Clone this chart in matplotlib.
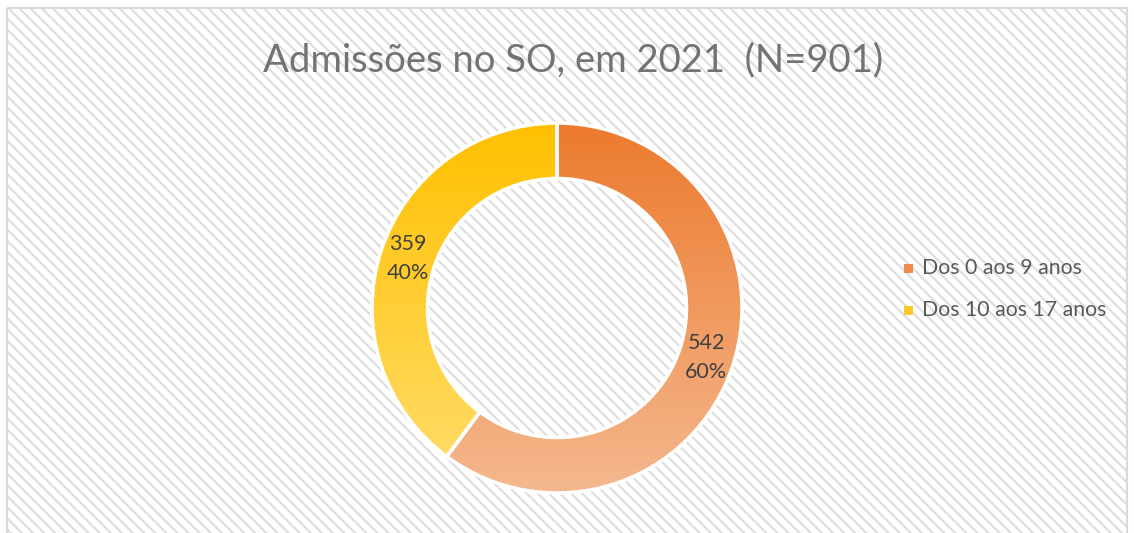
import numpy as np
import matplotlib
matplotlib.use("Agg")
import matplotlib.pyplot as plt
from matplotlib.colors import LinearSegmentedColormap
from matplotlib.patches import Rectangle

plt.rcParams["font.family"] = ["Lato", "DejaVu Sans"]
plt.rcParams["hatch.linewidth"] = 1.5

# dados
categorias = ["Dos 0 aos 9 anos", "Dos 10 aos 17 anos"]
valores = [542, 359]
titulo = "Admissões no SO, em 2021  (N=901)"

# gradientes (topo -> base)
grad = [("#EC7A2E", "#F5B88E"), ("#FFC000", "#FFDE6E")]
cor_legenda = ["#F08A4B", "#FFC82A"]

W, H = 1134, 533
fig = plt.figure(figsize=(W / 100, H / 100), dpi=100)
fig.patch.set_facecolor("white")

# fundo tracejado e moldura
bg = fig.add_axes([0, 0, 1, 1])
bg.set_xlim(0, W)
bg.set_ylim(H, 0)
bg.axis("off")
bg.add_patch(Rectangle((7, 8), 1120, 530, facecolor="white", edgecolor="#DDDDDD",
                       hatch="\\\\\\", linewidth=0))
bg.add_patch(Rectangle((7, 8), 1120, 530, facecolor="none", edgecolor="#D9D9D9",
                       linewidth=1.5))

# donut
cx, cy, r = 557, 308, 185
ax = fig.add_axes([(cx - r) / W, (H - cy - r) / H, 2 * r / W, 2 * r / H])
total = sum(valores)
wedges, textos, autotextos = ax.pie(
    valores, startangle=90, counterclock=False, radius=1,
    colors=["none", "none"],
    wedgeprops=dict(width=0.3, edgecolor="white", linewidth=2.5),
    autopct=lambda p: f"{round(p * total / 100)}\n{p:.0f}%",
    pctdistance=0.85,
    textprops=dict(color="#404040", fontsize=15.5, linespacing=1.55))

g = np.linspace(0, 1, 256).reshape(-1, 1)
for w, (c1, c2) in zip(wedges, grad):
    cmap = LinearSegmentedColormap.from_list("g", [c1, c2])
    im = ax.imshow(g, cmap=cmap, extent=[-1, 1, -1, 1], origin="upper",
                   aspect="auto", zorder=0.5)
    im.set_clip_path(w)
    w.set_zorder(1)

ax.set_xlim(-1, 1)
ax.set_ylim(-1, 1)
ax.axis("off")

# título
fig.text(573 / W, 1 - 60 / H, titulo, ha="center", va="center",
         fontsize=27.5, color="#737373")

# legenda
for i, (nome, cor) in enumerate(zip(categorias, cor_legenda)):
    y = 268 + 42 * i
    fig.patches.append(Rectangle(((904) / W, 1 - (y + 4.5) / H), 9 / W, 9 / H,
                                 transform=fig.transFigure, facecolor=cor,
                                 edgecolor="none"))
    fig.text(922 / W, 1 - y / H, nome, ha="left", va="center",
             fontsize=15.3, color="#595959")

fig.savefig("out.png", dpi=100)
